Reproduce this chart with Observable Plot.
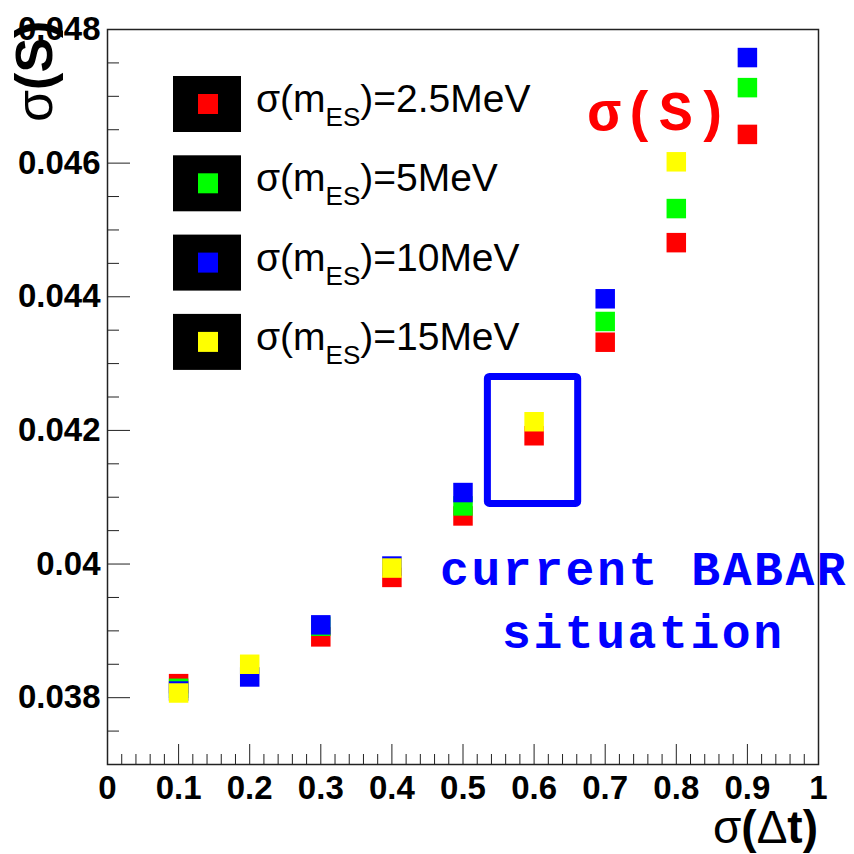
<!DOCTYPE html>
<html><head><meta charset="utf-8">
<script src="https://cdn.jsdelivr.net/npm/d3@7"></script>
<script src="https://cdn.jsdelivr.net/npm/@observablehq/plot@0.6"></script>
<style>html,body{margin:0;padding:0;background:#fff;} svg{display:block}</style>
</head><body><div id="chart"></div>
<script>
// x values: sigma(Delta t)
const sigmaDt = [0.1, 0.2, 0.3, 0.4, 0.5, 0.6, 0.7, 0.8, 0.9];
// sigma(S) per sigma(mES) setting (null = hidden / not visible in the picture)
const sigmaS_2p5MeV = [0.03821, null, 0.03891, 0.03980, 0.04072, 0.04192, 0.04332, 0.04481, 0.04643];
const sigmaS_5MeV   = [0.03814, null, 0.03907, null, 0.04087, null, 0.04363, 0.04532, 0.04713];
const sigmaS_10MeV  = [0.03810, 0.03831, 0.03909, 0.03997, 0.04107, null, 0.04397, null, 0.04758];
const sigmaS_15MeV  = [0.03807, 0.03850, null, 0.03994, null, 0.04213, null, 0.04602, null];
const seriesValues = [sigmaS_2p5MeV, sigmaS_5MeV, sigmaS_10MeV, sigmaS_15MeV];
const seriesColors = ["#ff0000", "#00ff00", "#0000ff", "#ffff00"];
const legendValues = ["2.5MeV", "5MeV", "10MeV", "15MeV"];

const yMajorTicks = [0.038, 0.040, 0.042, 0.044, 0.046, 0.048];
const yTickLabels = ["0.038", "0.04", "0.042", "0.044", "0.046", "0.048"];
const xMajorTicks = [0, 0.1, 0.2, 0.3, 0.4, 0.5, 0.6, 0.7, 0.8, 0.9, 1];
const xTickLabels = ["0", "0.1", "0.2", "0.3", "0.4", "0.5", "0.6", "0.7", "0.8", "0.9", "1"];
const yMinorTicks = d3.range(0, 23).map(i => 0.037 + i * 0.0005).filter(v => !yMajorTicks.some(t => Math.abs(t - v) < 1e-9));
const xMinorTicks = d3.range(0, 51).map(i => i * 0.02).filter(v => !xMajorTicks.some(t => Math.abs(t - v) < 1e-9));

// highlighted "current BABAR situation" box
const boxRows = [{x1: 0.535, x2: 0.662, y1: 0.0409, y2: 0.0428}];

const SANS = "Liberation Sans, Arial, Helvetica, sans-serif";
const MONO = "Liberation Mono, Courier New, monospace";

const dotMarks = seriesValues.map((vals, s) =>
  Plot.dot(sigmaDt.map((x, i) => ({x, y: vals[i]})).filter(d => d.y != null),
    {x: "x", y: "y", symbol: "square", r: 11, fill: seriesColors[s], stroke: null})
);

const plot = Plot.plot({
  width: 854, height: 854,
  marginLeft: 107, marginRight: 36, marginTop: 29, marginBottom: 90,
  style: {fontFamily: SANS, background: "#fff", overflow: "visible"},
  x: {domain: [0, 1]},
  y: {domain: [0.037, 0.048]},
  marks: [
    Plot.axisY(yMinorTicks, {anchor: "left", tickSize: -12, tickFormat: () => "", label: null, stroke: "#222"}),
    Plot.axisY(yMajorTicks, {anchor: "left", tickSize: -23, tickPadding: 30, label: null, stroke: "#222",
      tickFormat: d => yTickLabels[yMajorTicks.indexOf(d)], fontSize: 33, fontWeight: "bold", fill: "#000"}),
    Plot.axisX(xMinorTicks, {anchor: "bottom", tickSize: -10, tickFormat: () => "", label: null, stroke: "#222"}),
    Plot.axisX(xMajorTicks, {anchor: "bottom", tickSize: -20, tickPadding: 31, label: null, stroke: "#222",
      tickFormat: d => xTickLabels[xMajorTicks.indexOf(d)], fontSize: 33, fontWeight: "bold", fill: "#000"}),
    Plot.rect(boxRows, {x1: "x1", x2: "x2", y1: "y1", y2: "y2", stroke: "#0000ff", strokeWidth: 7, fill: "none", rx: 2}),
    ...dotMarks,
    Plot.frame({stroke: "#222", strokeWidth: 1.5})
  ]
});

const svg = d3.select(plot);

// Legend (inside the frame, top-left)
const lg = svg.append("g").attr("class", "legend").attr("text-anchor", "start");
legendValues.forEach((v, i) => {
  const top = 76 + i * 79.3;
  lg.append("rect").attr("x", 173).attr("y", top).attr("width", 68).attr("height", 56).attr("fill", "#000");
  lg.append("rect").attr("x", 198).attr("y", top + 18).attr("width", 20).attr("height", 20).attr("fill", seriesColors[i]);
  const t = lg.append("text").attr("x", 256).attr("y", top + 36).attr("text-anchor", "start")
    .attr("font-family", SANS).attr("font-size", 39).attr("fill", "#000");
  t.append("tspan").text("σ(m");
  t.append("tspan").attr("font-size", 26).attr("dy", 14).text("ES");
  t.append("tspan").attr("dy", -14).text(")=" + v);
});

// red sigma(S) annotation
svg.append("text").attr("x", 587).attr("y", 130).attr("text-anchor", "start")
  .attr("font-family", MONO).attr("font-weight", "bold")
  .attr("font-size", 56).attr("letter-spacing", 2.4).attr("fill", "#ff0000").text("σ(S)");

// blue "current BABAR situation"
svg.append("text").attr("x", 440).attr("y", 585).attr("text-anchor", "start")
  .attr("font-family", MONO).attr("font-weight", "bold").attr("font-size", 48).attr("letter-spacing", 2.6)
  .attr("fill", "#0000ff").text("current BABAR");
svg.append("text").attr("x", 502).attr("y", 648).attr("text-anchor", "start")
  .attr("font-family", MONO).attr("font-weight", "bold").attr("font-size", 48).attr("letter-spacing", 2.6)
  .attr("fill", "#0000ff").text("situation");

// x-axis title
const xt = svg.append("text").attr("x", 818).attr("y", 843).attr("text-anchor", "end")
  .attr("font-family", SANS).attr("font-size", 46).attr("fill", "#000");
xt.append("tspan").text("σ");
xt.append("tspan").attr("font-weight", "bold").text("(");
xt.append("tspan").text("Δ");
xt.append("tspan").attr("font-weight", "bold").text("t)");

// y-axis title (rotated)
const yt = svg.append("text").attr("transform", "translate(52,122) rotate(-90)").attr("text-anchor", "start")
  .attr("font-family", SANS).attr("font-size", 52).attr("fill", "#000");
yt.append("tspan").text("σ");
yt.append("tspan").attr("font-weight", "bold").text("(S)");

// keep frame on top of annotations
svg.select('[aria-label="frame"]').raise();

document.getElementById("chart").appendChild(plot);
</script>
</body></html>
